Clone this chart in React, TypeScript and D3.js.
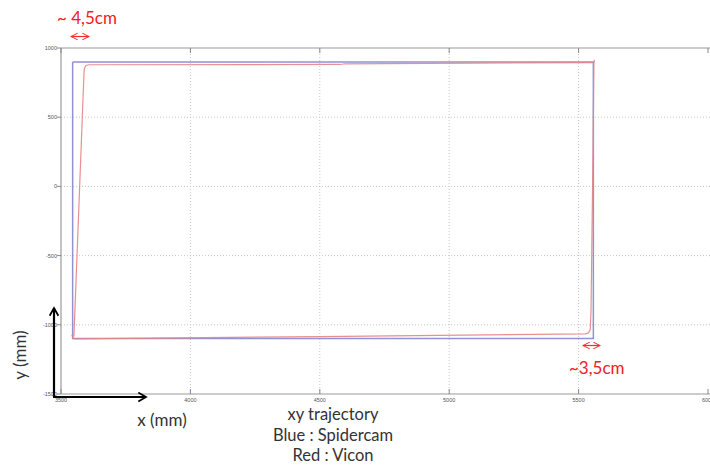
import React from "react";
import * as d3 from "d3";

const xTicks = [3500, 4000, 4500, 5000, 5500, 6000];
const yTicks = [-1500, -1000, -500, 0, 500, 1000];

// Blue : Spidercam trajectory (mm)
const blueX = [3545, 5557, 5557, 3545, 3545];
const blueY = [899, 899, -1099, -1099, 899];

// Red : Vicon trajectory (mm)
const redX = [5561, 5559, 5556, 5548, 5545, 5538, 5527, 4500, 3560, 3549, 3543, 3550, 3589, 3591, 3597, 3608, 4578, 4597, 5562];
const redY = [915, 893, 300, -900, -1035, -1058, -1066, -1085, -1102, -1101, -1078, -1080, 827, 855, 874, 879, 881, 886, 895];

const W = 710;
const H = 466;

export default function App() {
  const x = d3.scaleLinear().domain([3500, 6000]).range([61, 708]);
  const y = d3.scaleLinear().domain([-1500, 1000]).range([394, 48]);
  const line = d3
    .line<[number, number]>()
    .x((d) => x(d[0]))
    .y((d) => y(d[1]));
  const blue = blueX.map((v, i) => [v, blueY[i]] as [number, number]);
  const red = redX.map((v, i) => [v, redY[i]] as [number, number]);
  const font = "Lato, 'Open Sans', sans-serif";
  const [x0] = x.range();
  const [y0, y1] = y.range();

  return (
    <svg
      width={W}
      height={H}
      style={{ position: "absolute", left: 0, top: 0, background: "#fff" }}
    >
      <defs>
        <marker id="blk" viewBox="0 0 10 10" refX="8" refY="5" markerWidth="5" markerHeight="5" orient="auto-start-reverse">
          <path d="M1,1 L8,5 L1,9" fill="none" stroke="#000" strokeWidth="1.6" />
        </marker>
        <marker id="redArr" viewBox="0 0 10 10" refX="9" refY="5" markerWidth="7" markerHeight="7" orient="auto-start-reverse">
          <path d="M1,1 L9,5 L1,9" fill="none" stroke="#f03030" strokeWidth="1.2" />
        </marker>
      </defs>
      {/* grid */}
      {xTicks.slice(1, -1).map((t) => (
        <line key={"gx" + t} x1={x(t)} x2={x(t)} y1={y1} y2={y0} stroke="#c8c8c8" strokeWidth={1} strokeDasharray="1,2" />
      ))}
      {yTicks.slice(1, -1).map((t) => (
        <line key={"gy" + t} x1={x0} x2={W} y1={y(t)} y2={y(t)} stroke="#c8c8c8" strokeWidth={1} strokeDasharray="1,2" />
      ))}
      {/* frame */}
      <line x1={x0} x2={W} y1={y1} y2={y1} stroke="#9a9a9a" strokeWidth={1.2} />
      <line x1={x0} x2={W} y1={y0} y2={y0} stroke="#9a9a9a" strokeWidth={1.2} />
      <line x1={x0} x2={x0} y1={y1} y2={y0} stroke="#9a9a9a" strokeWidth={1.2} />
      {/* ticks */}
      {xTicks.map((t) => (
        <g key={"tx" + t}>
          <line x1={x(t)} x2={x(t)} y1={y0} y2={y0 - 5} stroke="#888" />
          <line x1={x(t)} x2={x(t)} y1={y1} y2={y1 + 5} stroke="#888" />
          <text x={x(t)} y={y0 + 8} fontSize={5.5} fill="#555" textAnchor="middle" fontFamily="Arial, sans-serif">
            {t}
          </text>
        </g>
      ))}
      {yTicks.map((t) => (
        <g key={"ty" + t}>
          <line x1={x0 - 4} x2={x0} y1={y(t)} y2={y(t)} stroke="#888" />
          <text x={x0 - 4} y={y(t) + 2} fontSize={5.5} fill="#555" textAnchor="end" fontFamily="Arial, sans-serif">
            {t}
          </text>
        </g>
      ))}
      {/* trajectories */}
      <path d={line(blue) ?? ""} fill="none" stroke="#9292d2" strokeWidth={1.5} />
      <path d={line(red) ?? ""} fill="none" stroke="#e48484" strokeWidth={1.2} opacity={0.9} />

      {/* black axis arrows */}
      <line x1={54} y1={397} x2={54} y2={308} stroke="#000" strokeWidth={2.2} markerEnd="url(#blk)" />
      <line x1={53} y1={397} x2={146} y2={397} stroke="#000" strokeWidth={2.2} markerEnd="url(#blk)" />
      <text transform="translate(26,355) rotate(-90)" fontSize={17} textAnchor="middle" fontFamily={font} fill="#333">
        y (mm)
      </text>
      <text x={162} y={426} fontSize={17} textAnchor="middle" fontFamily={font} fill="#333">
        x (mm)
      </text>
      <text x={333} y={420} fontSize={16.5} textAnchor="middle" fontFamily={font} fill="#333">
        xy trajectory
      </text>
      <text x={333} y={441} fontSize={16.5} textAnchor="middle" fontFamily={font} fill="#333">
        Blue : Spidercam
      </text>
      <text x={333} y={461} fontSize={16.5} textAnchor="middle" fontFamily={font} fill="#333">
        Red : Vicon
      </text>

      {/* red annotations */}
      <text x={57} y={24} fontSize={17} fontFamily={font} fill="#f02020">
        ~ 4,5cm
      </text>
      <line x1={71} y1={36.5} x2={89} y2={36.5} stroke="#f03030" strokeWidth={1.2} markerStart="url(#redArr)" markerEnd="url(#redArr)" />
      <text x={569} y={374} fontSize={17} fontFamily={font} fill="#f02020">
        ~3,5cm
      </text>
      <line x1={583} y1={345.5} x2={600} y2={345.5} stroke="#f03030" strokeWidth={1.2} markerStart="url(#redArr)" markerEnd="url(#redArr)" />
    </svg>
  );
}
